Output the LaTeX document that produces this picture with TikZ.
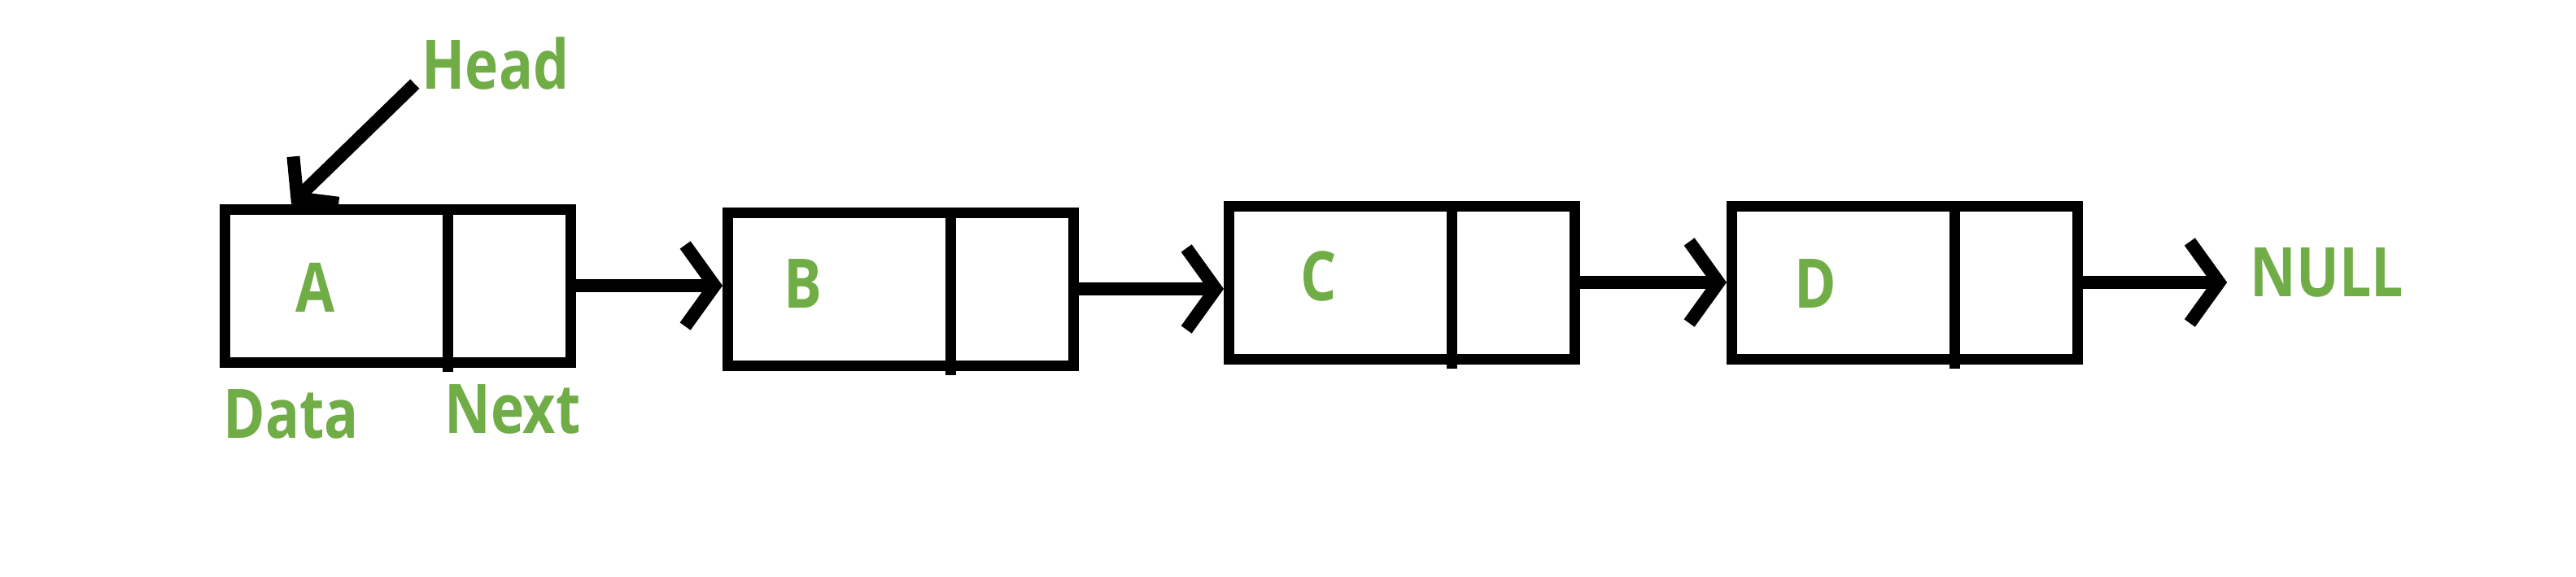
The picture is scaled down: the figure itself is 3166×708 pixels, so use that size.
\documentclass[tikz,border=0pt]{standalone}
\usepackage{fontspec}
\newfontfamily\labfont[FakeStretch=0.83]{Open Sans}
\usetikzlibrary{arrows.meta,calc}
\definecolor{labgreen}{HTML}{70AD47}
\begin{document}
\begin{tikzpicture}[x=0.25pt,y=-0.25pt,
  listbox/.style={draw=black,line width=3.25pt,minimum width=106.25pt,minimum height=47pt,inner sep=0pt},
  divider/.style={draw=black,line width=3.25pt},
  link/.style={draw=black,line width=4pt,-{Straight Barb[length=9pt,width=25pt]}},
  headlink/.style={draw=black,line width=4pt,-{Straight Barb[length=8pt,width=20pt]}},
  lab/.style={text=labgreen,font=\labfont\bfseries\fontsize{21}{21}\selectfont,inner sep=0pt}]
\useasboundingbox (0,0) rectangle (3166,708);
% list nodes
\node[listbox] (A) at (489,351) {};
\node[listbox] (B) at (1107,355) {};
\node[listbox] (C) at (1723,347) {};
\node[listbox] (D) at (2341,347) {};
\foreach \n in {A,B,C,D}{
  \draw[divider] ($(\n.north west)!0.64!(\n.north east)$) -- ($(\n.south west)!0.64!(\n.south east)+(0,5)$);
}
% labels
\node[lab] (la) at (388,353) {A};
\node[lab] (lb) at (987,349) {B};
\node[lab] (lc) at (1621,339) {C};
\node[lab] (ld) at (2231,349) {D};
\node[lab] (head) at (609,78) {Head};
\node[lab] (data) at (358,509) {Data};
\node[lab] (next) at (630,503) {Next};
\node[lab] (null) at (2860,335) {NULL};
% connectors
\coordinate (headtip) at ($(A.north west)+(88,0)$);
\draw[headlink] ($(head.south west)+(-8,-8)$) -- (headtip);
\draw[link] (A.east) -- (A.east -| B.west);
\draw[link] (B.east) -- (B.east -| C.west);
\draw[link] (C.east) -- (C.east -| D.west);
\draw[link,shorten >=7pt] (D.east) -- (D.east -| null.west);
\end{tikzpicture}
\end{document}
